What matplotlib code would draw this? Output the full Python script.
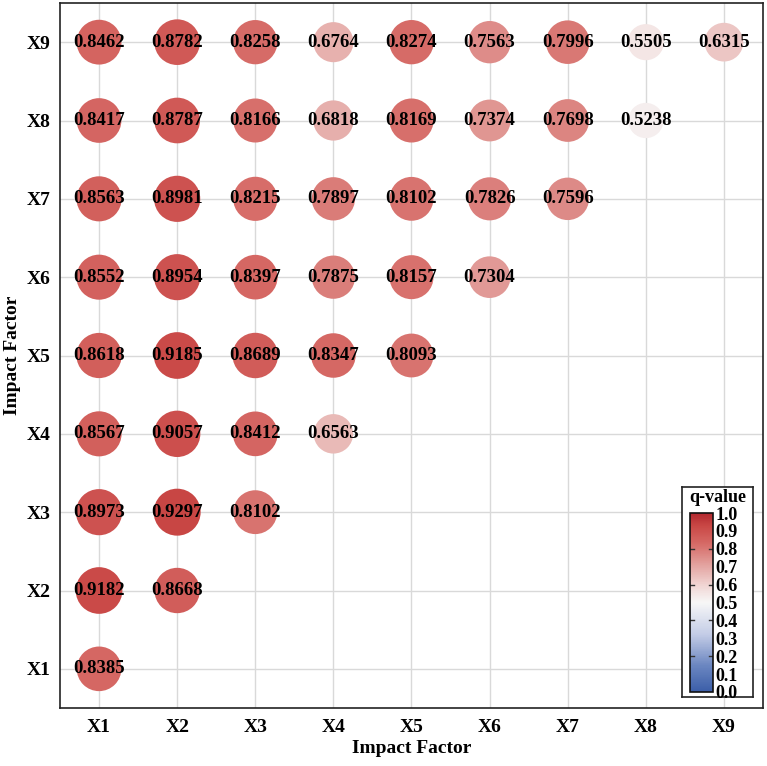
import numpy as np
import matplotlib
matplotlib.use("Agg")
import matplotlib.pyplot as plt
from matplotlib.colors import LinearSegmentedColormap, Normalize

factors = ["X1", "X2", "X3", "X4", "X5", "X6", "X7", "X8", "X9"]
row_X1 = [0.8385]
row_X2 = [0.9182, 0.8668]
row_X3 = [0.8973, 0.9297, 0.8102]
row_X4 = [0.8567, 0.9057, 0.8412, 0.6563]
row_X5 = [0.8618, 0.9185, 0.8689, 0.8347, 0.8093]
row_X6 = [0.8552, 0.8954, 0.8397, 0.7875, 0.8157, 0.7304]
row_X7 = [0.8563, 0.8981, 0.8215, 0.7897, 0.8102, 0.7826, 0.7596]
row_X8 = [0.8417, 0.8787, 0.8166, 0.6818, 0.8169, 0.7374, 0.7698, 0.5238]
row_X9 = [0.8462, 0.8782, 0.8258, 0.6764, 0.8274, 0.7563, 0.7996, 0.5505, 0.6315]
rows = [row_X1, row_X2, row_X3, row_X4, row_X5, row_X6, row_X7, row_X8, row_X9]
cbar_ticks = [0.0, 0.1, 0.2, 0.3, 0.4, 0.5, 0.6, 0.7, 0.8, 0.9, 1.0]

plt.rcParams['font.family'] = ['Liberation Serif', 'DejaVu Serif']
plt.rcParams['font.weight'] = 'bold'

cmap = LinearSegmentedColormap.from_list("qv", [
    (0.0, "#3b5ea8"), (0.15, "#6c87c1"), (0.32, "#c3cce6"), (0.5, "#f7f7f7"),
    (0.6, "#f0d4d2"), (0.7, "#e4a7a4"), (0.83, "#d66a66"), (0.93, "#c94745"),
    (1.0, "#b2282e")])
norm = Normalize(0, 1)

fig = plt.figure(figsize=(7.67, 7.66), dpi=100)
ax = fig.add_axes([60/767, 1-708/766, 703/767, 705/766])

xs, ys, vs = [], [], []
for yi, row in enumerate(rows):
    for xi, v in enumerate(row):
        xs.append(xi + 1)
        ys.append(yi + 1)
        vs.append(v)
xs = np.array(xs); ys = np.array(ys); vs = np.array(vs)

ax.scatter(xs, ys, s=1230 * vs, c=vs, cmap=cmap, norm=norm, edgecolors='none', zorder=3)
for x, y, v in zip(xs, ys, vs):
    ax.text(x, y, f"{v:.4f}", ha='center', va='center', fontsize=13.5,
            fontweight='bold', color='black', zorder=4)

ax.set_xlim(0.5, 9.5)
ax.set_ylim(0.5, 9.5)
ax.set_xticks(range(1, 10))
ax.set_yticks(range(1, 10))
ax.set_xticklabels(factors, fontsize=14, fontweight='bold')
ax.set_yticklabels(factors, fontsize=14, fontweight='bold')
ax.tick_params(axis='x', length=0, pad=8)
ax.tick_params(axis='y', length=0, pad=7)
ax.grid(True, color='#d9d9d9', linewidth=1, zorder=0)
ax.set_axisbelow(True)
for s in ax.spines.values():
    s.set_linewidth(1.2)
    s.set_color('#222222')
ax.set_xlabel("Impact Factor", fontsize=14, fontweight='bold', labelpad=3)
ax.set_ylabel("Impact Factor", fontsize=14, fontweight='bold', labelpad=4)

# colorbar box
box = fig.add_axes([682/767, 1-697/766, 71/767, 210/766], zorder=5)
box.set_xticks([]); box.set_yticks([])
box.set_facecolor('white')
for s in box.spines.values():
    s.set_linewidth(1.2)
    s.set_color('#222222')
box.text(0.5, 0.99, "q-value", ha='center', va='top', fontsize=13,
         fontweight='bold', transform=box.transAxes)

cax = fig.add_axes([690/767, 1-692/766, 23/767, 179/766], zorder=6)
sm = matplotlib.cm.ScalarMappable(norm=norm, cmap=cmap)
cb = fig.colorbar(sm, cax=cax, ticks=cbar_ticks)
cb.outline.set_linewidth(1.2)
cb.outline.set_edgecolor('#111111')
cax.tick_params(length=0, pad=2, labelsize=13)
cax.set_yticklabels([f"{t:.1f}" for t in cbar_ticks], fontweight='bold')
for t in [0.2, 0.4, 0.6, 0.8]:
    cax.axhline(t, xmin=0, xmax=0.18, color='#333333', linewidth=1)
    cax.axhline(t, xmin=0.82, xmax=1, color='#333333', linewidth=1)

fig.savefig("out.png", dpi=100)
